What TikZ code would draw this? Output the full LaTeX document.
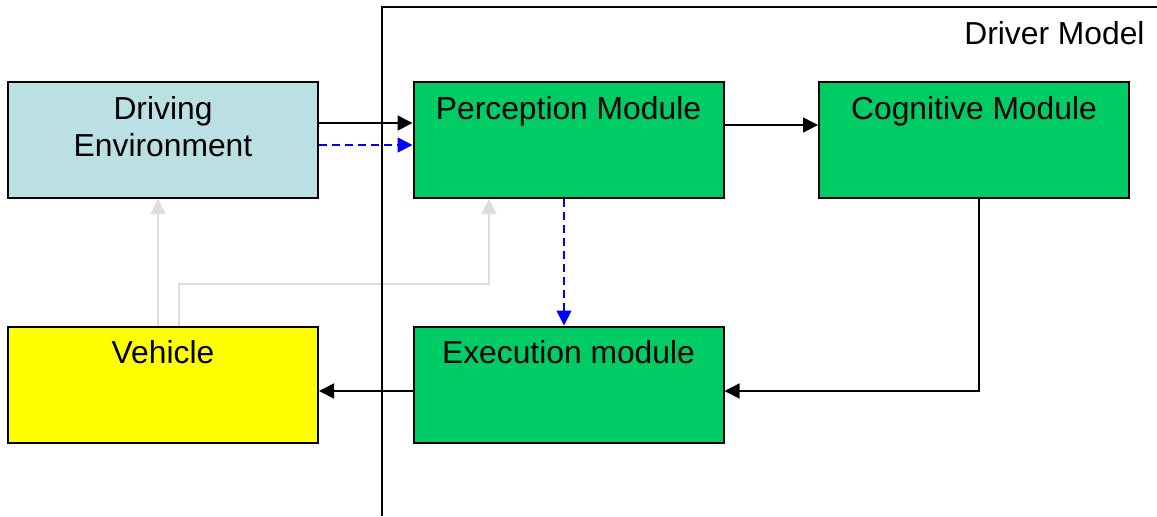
\documentclass[tikz,border=0pt]{standalone}
\usepackage{fontspec}
\setmainfont{Liberation Sans}
\usepackage{xcolor}
\definecolor{envblue}{HTML}{BBE0E3}
\definecolor{modgreen}{HTML}{00CC66}
\definecolor{vehyellow}{HTML}{FFFF00}
\definecolor{fbgray}{HTML}{DDDDDD}
\usetikzlibrary{arrows.meta}
\tikzset{
  >={Triangle[length=7.5pt, width=7.5pt]},
  box/.style={draw=black, line width=1pt, minimum width=155pt, minimum height=58pt, inner sep=0pt},
  env/.style={box, fill=envblue},
  module/.style={box, fill=modgreen},
  veh/.style={box, fill=vehyellow},
  caption/.style={font=\fontsize{15.9}{18.5}\selectfont, align=center, anchor=north,
    inner sep=0pt, yshift=-7.5pt},
  flow/.style={->, line width=0.8pt, draw=black},
  percept/.style={flow, draw=blue, dash pattern=on 4pt off 2.5pt},
  feedback/.style={flow, draw=fbgray},
}

\begin{document}
\begin{tikzpicture}[x=0.5pt, y=-0.5pt]
  \useasboundingbox (0,0) rectangle (1157,516);

  % The five blocks.
  \node[env, label={[caption, name=envtxt]north:Driving\\Environment}] (env) at (163,140) {};
  \node[module, label={[caption, name=perctxt]north:Perception Module}] (perc) at (568.5,140) {};
  \node[module, label={[caption, name=cogntxt]north:Cognitive Module}] (cogn) at (974,140) {};
  \node[veh, label={[caption, name=vehtxt]north:Vehicle}] (veh) at (163,384.5) {};
  \node[module, label={[caption, name=exectxt]north:Execution module}] (exec) at (568.5,384.5) {};

  % Feedback from the vehicle.
  \coordinate (fbturn) at (179,284);
  \draw[feedback] ([xshift=-2.5pt]veh.north) -- ([xshift=-2.5pt]env.south);
  \draw[feedback] ([xshift=8pt]veh.north) -- (fbturn) -| ([xshift=-39.75pt]perc.south);

  % Main loop.
  \draw[flow] ([yshift=8.5pt]env.east) -- ([yshift=8.5pt]perc.west);
  \draw[percept] ([yshift=-2.5pt]env.east) -- ([yshift=-2.5pt]perc.west);
  \draw[flow] ([yshift=7.5pt]perc.east) -- ([yshift=7.5pt]cogn.west);
  \draw[flow] ([xshift=2.5pt]cogn.south) |- ([yshift=-3.25pt]exec.east);
  \draw[percept] ([xshift=-2.25pt]perc.south) -- ([xshift=-2.25pt]exec.north);
  \draw[flow] ([yshift=-3.25pt]exec.west) -- ([yshift=-3.25pt]veh.east);

  % Driver model frame.
  \coordinate (frameB) at (382,516);
  \coordinate (frameT) at (382,7);
  \coordinate (frameR) at (1157,7);
  \draw[line width=1pt] (frameB) -- (frameT) -- (frameR);
  \node[font=\fontsize{15.9}{18.5}\selectfont, anchor=base east, inner sep=0pt] (dmtxt)
    at (1145,44) {Driver Model};
\end{tikzpicture}
\end{document}
